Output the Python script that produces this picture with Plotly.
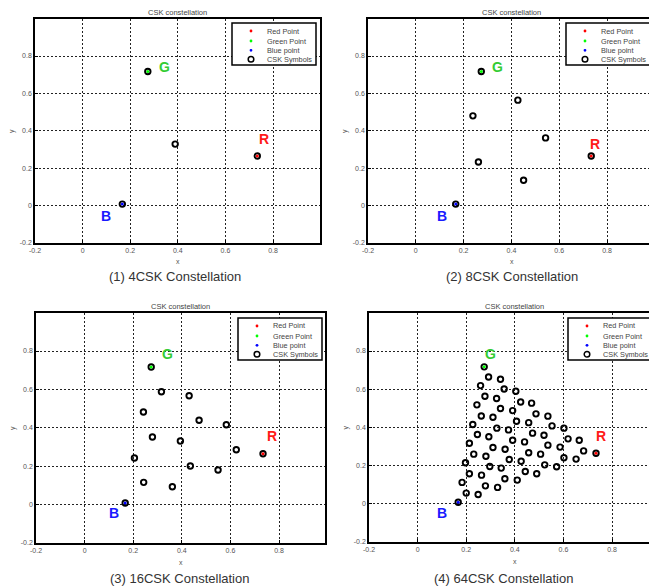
import plotly.graph_objects as go

# ---------------- data ----------------
red_point = [0.734, 0.265]
green_point = [0.274, 0.717]
blue_point = [0.167, 0.008]

csk4_x = [0.167, 0.274, 0.734, 0.389]
csk4_y = [0.008, 0.717, 0.265, 0.329]

csk8_x = [0.274, 0.427, 0.239, 0.543, 0.262, 0.451, 0.167, 0.734]
csk8_y = [0.717, 0.564, 0.480, 0.362, 0.233, 0.136, 0.008, 0.265]

csk16_x = [0.274, 0.316, 0.430, 0.242, 0.471, 0.583, 0.279, 0.394,
           0.624, 0.734, 0.205, 0.435, 0.549, 0.243, 0.361, 0.167]
csk16_y = [0.717, 0.588, 0.567, 0.482, 0.439, 0.416, 0.352, 0.331,
           0.286, 0.265, 0.243, 0.201, 0.180, 0.116, 0.093, 0.008]

csk64_x = [0.274, 0.292, 0.341, 0.259, 0.356, 0.404, 0.277, 0.325,
           0.424, 0.469, 0.244, 0.341, 0.391, 0.262, 0.310, 0.487,
           0.536, 0.407, 0.457, 0.227, 0.553, 0.602, 0.326, 0.374,
           0.246, 0.473, 0.520, 0.293, 0.619, 0.665, 0.391, 0.440,
           0.213, 0.536, 0.310, 0.360, 0.586, 0.683, 0.734, 0.457,
           0.231, 0.506, 0.281, 0.602, 0.652, 0.377, 0.426, 0.197,
           0.523, 0.297, 0.572, 0.344, 0.443, 0.213, 0.490, 0.263,
           0.359, 0.410, 0.183, 0.279, 0.329, 0.200, 0.249, 0.167]
csk64_y = [0.717, 0.664, 0.652, 0.619, 0.601, 0.589, 0.563, 0.551,
           0.533, 0.527, 0.518, 0.499, 0.488, 0.460, 0.453, 0.471,
           0.459, 0.432, 0.425, 0.415, 0.408, 0.396, 0.396, 0.387,
           0.363, 0.370, 0.359, 0.351, 0.340, 0.333, 0.333, 0.324,
           0.317, 0.307, 0.295, 0.286, 0.297, 0.277, 0.265, 0.267,
           0.260, 0.260, 0.249, 0.241, 0.234, 0.232, 0.223, 0.215,
           0.204, 0.195, 0.194, 0.187, 0.169, 0.157, 0.157, 0.150,
           0.131, 0.124, 0.112, 0.094, 0.086, 0.056, 0.049, 0.008]

tick_vals = [-0.2, 0, 0.2, 0.4, 0.6, 0.8]
tick_text = ["-0.2", "0", "0.2", "0.4", "0.6", "0.8"]
legend_labels = ["Red Point", "Green Point", "Blue point", "CSK Symbols"]
captions = ["(1) 4CSK Constellation", "(2) 8CSK Constellation",
            "(3) 16CSK Constellation", "(4) 64CSK Constellation"]
plot_title = "CSK constellation"

W, H = 649, 588


def px(x):
    return x / W


def py(y):
    return 1 - y / H


# subplot geometry in pixels
panels = [
    dict(l=35, r=320, t=19, b=243, xmax=0.9975, ymax=0.998, right=False,
         full_r=320, lg=(232, 23), cap=(175, 276), ylab=12,
         txt={"R": (0.762, 0.356), "G": (0.346, 0.741), "B": (0.098, -0.056)}),
    dict(l=368, r=649, t=19, b=243, xmax=0.9757, ymax=0.998, right=True,
         full_r=655, lg=(566, 23), cap=(512, 276), ylab=345,
         txt={"R": (0.751, 0.329), "G": (0.343, 0.743), "B": (0.111, -0.056)}),
    dict(l=36, r=325, t=313, b=543, xmax=0.989, ymax=0.998, right=False,
         full_r=325, lg=(238, 318), cap=(179, 578), ylab=13,
         txt={"R": (0.770, 0.356), "G": (0.342, 0.783), "B": (0.120, -0.045)}),
    dict(l=369, r=649, t=313, b=542, xmax=0.952, ymax=0.999, right=True,
         full_r=660, lg=(568, 318), cap=(503, 578), ylab=345,
         txt={"R": (0.755, 0.354), "G": (0.299, 0.783), "B": (0.102, -0.048)}),
]

sets = [(csk4_x, csk4_y), (csk8_x, csk8_y), (csk16_x, csk16_y), (csk64_x, csk64_y)]

fig = go.Figure()
layout = dict(template="none", width=W, height=H, margin=dict(l=0, r=0, t=0, b=0, pad=0),
              paper_bgcolor="white", plot_bgcolor="white", showlegend=False,
              font=dict(family="Liberation Sans, Arial, sans-serif"))
annotations = []
shapes = []

dot_colors = ["#ff0000", "#00ff00", "#0000ff"]
label_colors = {"R": "#ff1a1a", "G": "#33cc33", "B": "#1a1aff"}
tick_font = dict(size=7, color="#555555")

for i, p in enumerate(panels):
    n = "" if i == 0 else str(i + 1)
    xa, ya = "x" + n, "y" + n
    xs, ys = sets[i]
    fig.add_trace(go.Scatter(x=xs, y=ys, mode="markers", xaxis=xa, yaxis=ya,
                             name=legend_labels[3], cliponaxis=False,
                             marker=dict(symbol="circle-open", size=5.5, color="black",
                                         line=dict(width=1.9, color="black"))))
    for pt, c, nm in zip([red_point, green_point, blue_point], dot_colors, legend_labels[:3]):
        fig.add_trace(go.Scatter(x=[pt[0]], y=[pt[1]], mode="markers", xaxis=xa, yaxis=ya,
                                 name=nm, marker=dict(size=3, color=c)))

    common = dict(tickvals=tick_vals, ticktext=tick_text, showgrid=True,
                  gridcolor="#222222", griddash="2px,2px", gridwidth=1,
                  showline=True, linecolor="black", linewidth=1.5,
                  ticks="inside", ticklen=3, tickcolor="black", automargin=False,
                  zeroline=False, tickfont=tick_font, fixedrange=True)
    layout["xaxis" + n] = dict(common, domain=[px(p["l"]), px(p["r"])],
                               range=[-0.2, p["xmax"]], anchor=ya, mirror=True)
    layout["yaxis" + n] = dict(common, domain=[py(p["b"]), py(p["t"])],
                               range=[-0.2, p["ymax"]], anchor=xa,
                               mirror=(not p["right"]))

    cx = (p["l"] + p["full_r"]) / 2
    annotations.append(dict(text=plot_title, x=px(cx), y=py(p["t"] - 7), xref="paper", yref="paper",
                            showarrow=False, font=dict(size=7.5, color="#444444"),
                            xanchor="center", yanchor="middle"))
    annotations.append(dict(text="x", x=px(cx), y=py(p["b"] + 19), xref="paper", yref="paper",
                            showarrow=False, font=dict(size=7, color="#555555"),
                            xanchor="center", yanchor="middle"))
    annotations.append(dict(text="y", x=px(p["ylab"]), y=py((p["t"] + p["b"]) / 2),
                            xref="paper", yref="paper", textangle=-90,
                            showarrow=False, font=dict(size=7, color="#555555"),
                            xanchor="center", yanchor="middle"))
    annotations.append(dict(text=captions[i], x=px(p["cap"][0]), y=py(p["cap"][1]),
                            xref="paper", yref="paper", showarrow=False,
                            font=dict(size=13, color="#333333"),
                            xanchor="center", yanchor="middle"))
    for k, (tx, ty) in p["txt"].items():
        annotations.append(dict(text="<b>" + k + "</b>", x=tx, y=ty, xref=xa, yref=ya,
                                showarrow=False,
                                font=dict(size=14, color=label_colors[k]),
                                xanchor="center", yanchor="middle"))
    # legend box drawn manually (compact, MATLAB-like)
    lx, ly = p["lg"]
    shapes.append(dict(type="rect", xref="paper", yref="paper",
                       x0=px(lx), x1=px(lx + 84), y0=py(ly + 42), y1=py(ly),
                       line=dict(color="black", width=1.5), fillcolor="white", layer="above"))
    rows = [8, 18, 27.3, 36.3]
    for j, ry in enumerate(rows):
        mx, my = lx + 19, ly + ry
        if j < 3:
            r = 1.4
            shapes.append(dict(type="circle", xref="paper", yref="paper",
                               x0=px(mx - r), x1=px(mx + r), y0=py(my + r), y1=py(my - r),
                               line=dict(width=0), fillcolor=dot_colors[j], layer="above"))
        else:
            r = 2.8
            shapes.append(dict(type="circle", xref="paper", yref="paper",
                               x0=px(mx - r), x1=px(mx + r), y0=py(my + r), y1=py(my - r),
                               line=dict(width=1.5, color="black"), fillcolor="rgba(0,0,0,0)",
                               layer="above"))
        annotations.append(dict(text=legend_labels[j], x=px(lx + 33), y=py(my),
                                xref="paper", yref="paper", showarrow=False,
                                font=dict(size=7.3, color="#444444"),
                                xanchor="left", yanchor="middle"))

layout["annotations"] = annotations
layout["shapes"] = shapes
fig.update_layout(**layout)
fig.write_html("out.html", config={"displayModeBar": False},
               post_script="document.body.style.margin='0';document.body.style.overflow='hidden';")
